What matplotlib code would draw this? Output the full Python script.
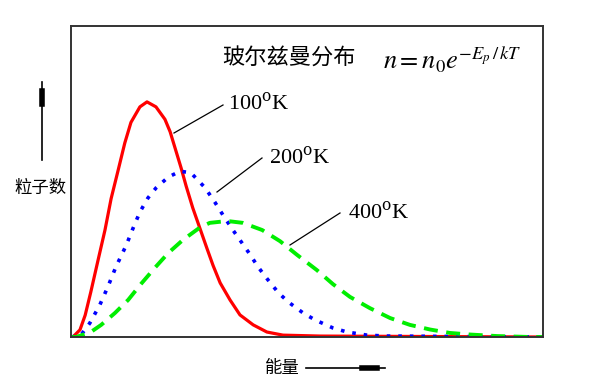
import matplotlib.pyplot as plt
from matplotlib.lines import Line2D

plt.rcParams['font.family'] = ['Noto Sans CJK SC', 'DejaVu Sans']
plt.rcParams['mathtext.fontset'] = 'stix'

# 能量 (任意单位) 与 粒子数 (相对值)
e_100 = [0, 0.04, 0.19, 0.30, 0.42, 0.57, 0.72, 0.85, 1.00, 1.14, 1.27, 1.46, 1.61,
         1.80, 1.99, 2.10, 2.20, 2.33, 2.44, 2.58, 2.73, 2.88, 3.01, 3.16, 3.37, 3.58,
         3.86, 4.15, 4.49, 5.28, 10]
n_100 = [0, 0, 2.3, 7.0, 14.5, 24.5, 34.4, 44.5, 53.7, 62.4, 69.0, 74.0, 75.6,
         74.0, 70.0, 66.0, 61.0, 54.5, 48.5, 41.5, 35.0, 28.5, 23.0, 17.4, 11.9, 7.1,
         3.9, 1.6, 0.6, 0.3, 0]

e_200 = [0, 0.21, 0.40, 0.61, 0.78, 0.95, 1.17, 1.31, 1.46, 1.63, 1.80, 2.06, 2.31,
         2.54, 2.84, 3.05, 3.22, 3.43, 3.62, 3.79, 3.96, 4.15, 4.39, 4.60, 4.92, 5.17,
         5.55, 5.85, 6.27, 6.69, 10]
n_200 = [0, 0.6, 4.5, 10.3, 16.1, 22.5, 29.5, 34.8, 40.2, 44.7, 47.9, 51.4, 53.3,
         52.8, 48.0, 43.3, 39.2, 34.4, 30.3, 26.6, 22.6, 18.8, 14.3, 11.3, 7.7, 5.5,
         2.9, 1.6, 0.6, 0.3, 0]

e_400 = [0, 0.11, 0.42, 0.64, 0.93, 1.21, 1.48, 1.78, 2.06, 2.37, 2.73, 2.94, 3.31,
         3.64, 4.05, 4.43, 4.79, 5.21, 5.55, 5.91, 6.33, 6.76, 7.18, 7.61, 8.03, 8.45,
         9.03, 9.72, 10]
n_400 = [0, 0, 1.6, 3.9, 7.7, 11.9, 17.0, 22.3, 27.0, 31.2, 35.2, 36.7, 37.3,
         36.7, 34.4, 30.8, 26.4, 21.5, 17.0, 12.9, 9.3, 6.1, 3.9, 2.4, 1.3, 0.8,
         0.3, 0, 0]

labels = ['100', '200', '400']

W, H = 600, 392


def px(x, y):  # 像素位置 -> figure 坐标
    return x / W, 1 - y / H


def seg(p0, p1, lw):
    a, b = px(*p0)
    c, d = px(*p1)
    fig.add_artist(Line2D([a, c], [b, d], color='black', lw=lw, transform=fig.transFigure))


fig = plt.figure(figsize=(6, 3.92), dpi=100)
ax = fig.add_axes([71 / W, 1 - 337 / H, 472 / W, 311 / H])

ax.plot(e_100, n_100, color='#ff0000', lw=2.3)
ax.plot(e_200, n_200, color='#0000ff', lw=2.6, linestyle=(0, (1, 2.2)))
ax.plot(e_400, n_400, color='#00ee00', lw=2.8, linestyle=(0, (3.6, 2.2)))

ax.set_xlim(0, 10)
ax.set_ylim(0, 100)
ax.set_xticks([])
ax.set_yticks([])
for s in ax.spines.values():
    s.set_linewidth(1.4)
    s.set_color('#333333')

# 标题和公式
fig.text(*px(222, 58), '玻尔兹曼分布', fontsize=16, va='center', ha='left')
fig.text(*px(383, 60), r'$n = n_0 e^{-E_p\,/\,kT}$', fontsize=19, va='center', ha='left')

# 温度标注和引线
lab_pos = [(228, 103), (269, 157), (348, 212)]
lead = [((174, 133), (223, 105)), ((217, 192), (262, 158)), ((290, 245), (340, 213))]
for t, (tx, ty), (p0, p1) in zip(labels, lab_pos, lead):
    fig.text(*px(tx, ty), t + r'$^{\rm o}$K', fontsize=16, va='center', ha='left',
             family='Liberation Serif', math_fontfamily='dejavuserif')
    seg(p0, p1, 0.9)

# 坐标轴说明
fig.text(*px(40, 188), '粒子数', fontsize=12.5, va='center', ha='center')
fig.text(*px(282, 368), '能量', fontsize=12.5, va='center', ha='center')

seg((42, 160), (42, 82), 1.2)
seg((42, 104), (42, 91), 4)
seg((306, 368), (385, 368), 1.2)
seg((362, 368), (377, 368), 4)

fig.savefig('out.png', dpi=100)
